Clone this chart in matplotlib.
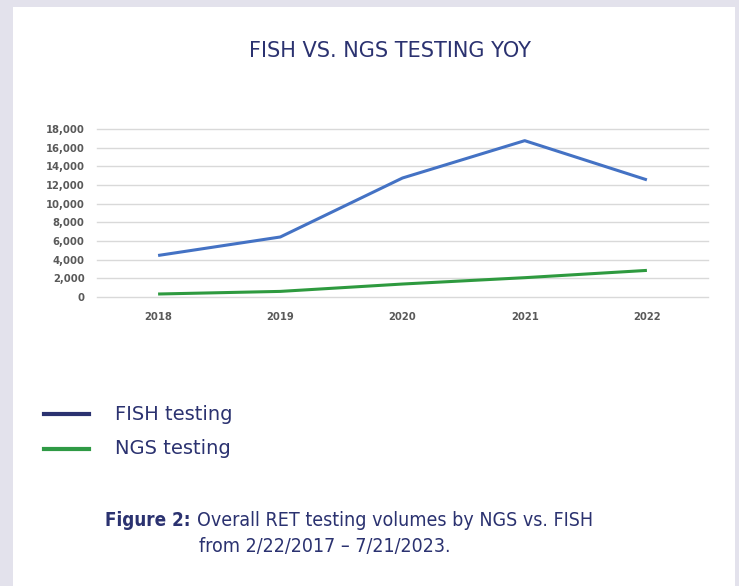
import matplotlib
matplotlib.use('Agg')
import matplotlib.pyplot as plt
from matplotlib.patches import Rectangle
from matplotlib.lines import Line2D
from matplotlib.ticker import FuncFormatter

years = ['2018', '2019', '2020', '2021', '2022']
fish_testing = [4450, 6430, 12750, 16750, 12550]
ngs_testing = [320, 600, 1390, 2070, 2850]
y_ticks = [0, 2000, 4000, 6000, 8000, 10000, 12000, 14000, 16000, 18000]

navy = '#2b3270'
fish_blue = '#4472c4'
ngs_green = '#2e9a3f'
legend_green = '#2f9a45'
grid_grey = '#d9d9d9'
tick_grey = '#595959'

W, H = 739, 586
fig = plt.figure(figsize=(W / 100, H / 100), dpi=100)
fig.patch.set_facecolor('#e3e2ec')

# white card behind everything
fig.patches.append(Rectangle((13 / W, 0), (735 - 13) / W, 1 - 7 / H,
                             transform=fig.transFigure, facecolor='white',
                             edgecolor='none', zorder=-5))

ax = fig.add_axes([97 / W, 1 - 297 / H, (708 - 97) / W, (297 - 129) / H])
ax.set_facecolor('none')
x = list(range(len(years)))
ax.plot(x, fish_testing, color=fish_blue, lw=2.2, solid_capstyle='butt')
ax.plot(x, ngs_testing, color=ngs_green, lw=2.2, solid_capstyle='butt')

ax.set_xlim(-0.5, len(years) - 0.5)
ax.set_ylim(0, 18000)
ax.set_yticks(y_ticks)
ax.yaxis.set_major_formatter(FuncFormatter(lambda v, p: f'{int(v):,}'))
ax.set_xticks(x)
ax.set_xticklabels(years)
ax.grid(axis='y', color=grid_grey, lw=1)
for gl in ax.get_ygridlines():
    gl.set_clip_on(False)
ax.set_axisbelow(True)
for s in ax.spines.values():
    s.set_visible(False)
ax.tick_params(length=0, labelsize=8, colors=tick_grey)
ax.tick_params(axis='y', pad=9)
ax.tick_params(axis='x', pad=11)
for lab in ax.get_xticklabels() + ax.get_yticklabels():
    lab.set_fontweight('bold')
    lab.set_fontstretch('condensed')

fig.text(390 / W, 1 - 51 / H, 'FISH VS. NGS TESTING YOY', ha='center',
         va='center', fontsize=15, color=navy)

# legend drawn by hand below the plot
for yy, col, lab in [(414, navy, 'FISH testing'), (449, legend_green, 'NGS testing')]:
    fig.add_artist(Line2D([44 / W, 89 / W], [1 - yy / H, 1 - yy / H],
                          color=col, lw=3, transform=fig.transFigure))
    fig.text(115 / W, 1 - yy / H, lab, ha='left', va='center', fontsize=14,
             color=navy)

cap = dict(va='center', color=navy, fontstretch='condensed')
fig.text(105 / W, 1 - 521 / H, 'Figure 2:', ha='left', fontweight='bold',
         fontsize=13.5, **cap)
fig.text(197 / W, 1 - 521 / H, 'Overall RET testing volumes by NGS vs. FISH',
         ha='left', fontsize=14, **cap)
fig.text(199 / W, 1 - 547 / H, 'from 2/22/2017 \u2013 7/21/2023.',
         ha='left', fontsize=14, **cap)

fig.savefig('out.png', dpi=100)
